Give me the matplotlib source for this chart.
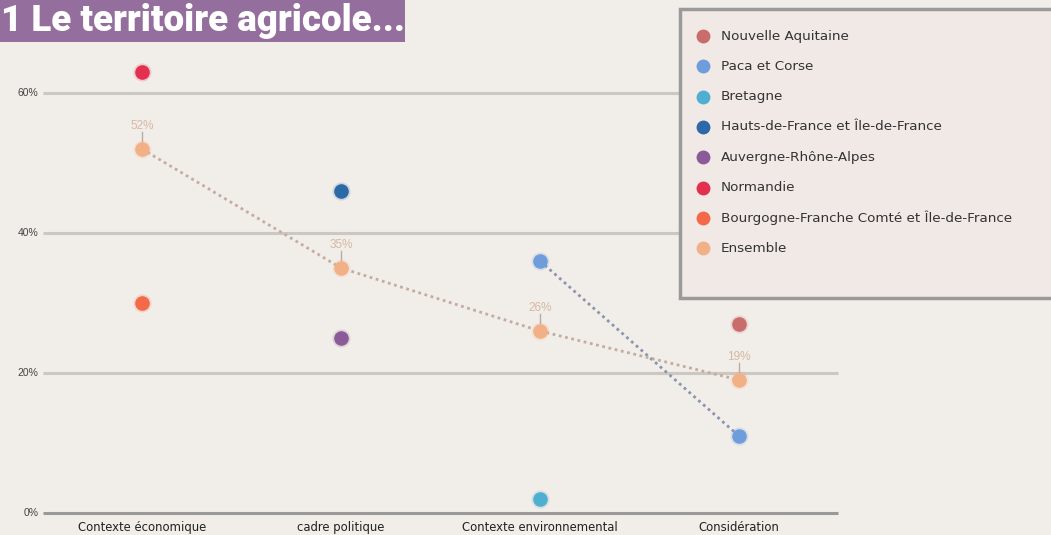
import numpy as np
import matplotlib
matplotlib.use("Agg")
import matplotlib.pyplot as plt
from matplotlib.patches import Rectangle
from matplotlib import font_manager

nan = np.nan
categories = ["Contexte économique", "cadre politique", "Contexte environnemental", "Considération"]
series_names = ["Nouvelle Aquitaine", "Paca et Corse", "Bretagne", "Hauts-de-France et Île-de-France",
                "Auvergne-Rhône-Alpes", "Normandie", "Bourgogne-Franche Comté et Île-de-France", "Ensemble"]
nouvelle_aquitaine = [nan, nan, nan, 27]
paca_corse = [nan, nan, 36, 11]
bretagne = [nan, nan, 2, nan]
hauts_de_france = [nan, 46, nan, nan]
auvergne = [nan, 25, nan, nan]
normandie = [63, nan, nan, nan]
bourgogne = [30, nan, nan, nan]
ensemble = [52, 35, 26, 19]
series_values = [nouvelle_aquitaine, paca_corse, bretagne, hauts_de_france, auvergne, normandie, bourgogne, ensemble]
colors = ["#c96c6c", "#6f9cdb", "#4eafd0", "#2c69a8", "#8a5b98", "#e2304e", "#f3694a", "#f2b087"]
line_colors = {1: "#8995ad", 7: "#c3aca2"}
y_ticks = [0, 20, 40, 60]
title = "1 Le territoire agricole..."

names = {f.name for f in font_manager.fontManager.ttflist}
title_family = "Liberation Sans Narrow" if "Liberation Sans Narrow" in names else "Roboto"

W, H = 1051, 535
bg = "#f1ede8"
fig = plt.figure(figsize=(W / 100, H / 100), dpi=100, facecolor=bg)
ax = fig.add_axes([0, 0, 1, 1])
ax.set_facecolor(bg)
ax.axis("off")
# pixel mapping: category i at x=142+199*i ; value v at y = 513 - 7*v
ax.set_xlim(-142 / 199, (W - 142) / 199)
ax.set_ylim(-(H - 513) / 7, 513 / 7)

x = np.arange(len(categories))
for t in y_ticks:
    ax.hlines(t, -0.497, 3.497, color="#999999" if t == 0 else "#cbc7c2", lw=2.2, zorder=1)
    ax.text(-0.52, t, f"{t}%", ha="right", va="center", fontsize=7.5,
            family="Liberation Sans", color="#444444")
for i, c in enumerate(categories):
    ax.text(i, -2.1, c, ha="center", va="center", fontsize=8.4, family="DejaVu Sans", color="#222222")

for k, (name, vals, col) in enumerate(zip(series_names, series_values, colors)):
    v = np.array(vals, dtype=float)
    m = ~np.isnan(v)
    if m.sum() > 1:
        ax.plot(x[m], v[m], ls=(0, (1, 1.3)), lw=2.0, color=line_colors.get(k, col), zorder=2)
    ax.scatter(x[m], v[m], s=110, color=col, linewidth=0, zorder=4)
    ax.scatter(x[m], v[m], s=170, color=col, alpha=0.18, linewidth=0, zorder=3)
    if name == "Ensemble":
        for xi, vi in zip(x[m], v[m]):
            ax.plot([xi, xi], [vi + 1.1, vi + 2.4], color="#b8aca4", lw=1, zorder=3)
            ax.text(xi, vi + 3.3, f"{vi:.0f}%", ha="center", va="center", fontsize=8.5,
                    family="Liberation Sans", color="#d6b9a5", zorder=5)

def px(xp, yp):
    return ((xp - 142) / 199, (513 - yp) / 7)

x0, y0 = px(680, 298)
x1, y1 = px(1060, 9)
ax.add_patch(Rectangle((x0, y0), x1 - x0, y1 - y0, facecolor="#f1e9e6", edgecolor="#9a9a9a",
                       lw=2.5, zorder=6, clip_on=False))
for k, (name, col) in enumerate(zip(series_names, colors)):
    yp = 36 + k * 30.3
    mx, my = px(703, yp)
    ax.scatter([mx], [my], s=100, color=col, linewidth=0, zorder=7)
    tx, ty = px(721, yp)
    ax.text(tx, ty, name, ha="left", va="center", fontsize=9.7, family="DejaVu Sans",
            color="#333333", zorder=7)

fig.patches.append(Rectangle((0, 1 - 42 / H), 405 / W, 42 / H, transform=fig.transFigure,
                             facecolor="#946e9d", edgecolor="none", zorder=0))
fig.text(1 / W, 1 - 21 / H, title, ha="left", va="center", fontsize=26.5, fontweight="heavy",
         family=title_family, color="white")

fig.savefig("out.png", dpi=100, facecolor=bg)
